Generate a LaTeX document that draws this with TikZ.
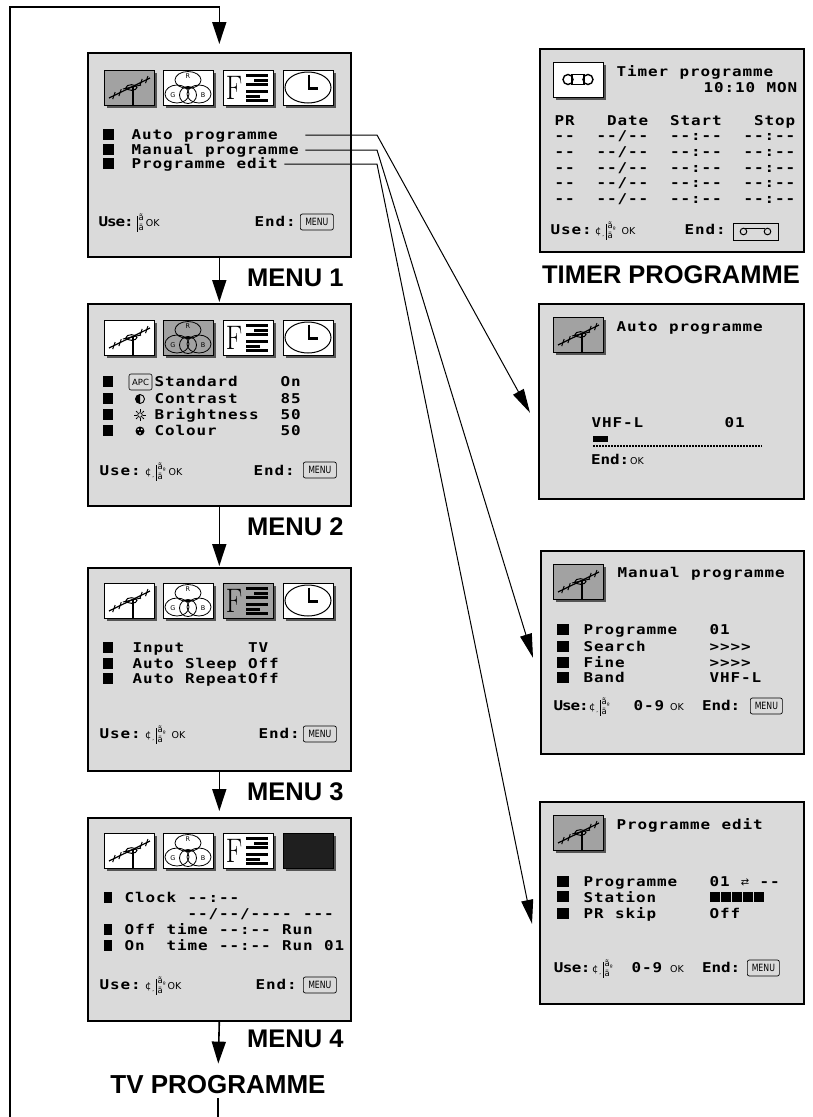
\documentclass[tikz,border=0pt]{standalone}
\usepackage{fontspec}
\usepackage{graphicx}
\usetikzlibrary{arrows.meta}
\newfontfamily\osdfam{DejaVu Sans Mono}
\newfontfamily\symf{DejaVu Sans}
\newfontfamily\lblf{Liberation Sans}
\newcommand\osdfont{\osdfam\bfseries\fontsize{13.5}{13.5}\selectfont}
\ExplSyntaxOn
\dim_new:N \l_osd_pitch_dim
\NewDocumentCommand\osd{O{10.5pt}m}{
  \group_begin:
  \dim_set:Nn \l_osd_pitch_dim {#1}
  \osdfont
  \str_map_inline:nn {#2}
   {
     \str_if_eq:nnTF {##1} {_}
       { \hbox_to_wd:nn { \l_osd_pitch_dim } { } }
       { \hbox_to_wd:nn { \l_osd_pitch_dim } { \hss \scalebox{1.18}[1]{##1} \hss } }
   }
  \group_end:
}
\ExplSyntaxOff
\newcommand\okf{\symf\fontsize{9.5}{9.5}\selectfont}
\newcommand\stk{\raisebox{-3.6pt}{\symf\fontsize{8.5}{7}\selectfont\shortstack[l]{ã\\ä}}}
\newcommand\ctlA{\rule[-5pt]{0.7pt}{16pt}\kern0.8pt\stk}
\newcommand\ctl{{\symf\fontsize{10}{10}\selectfont ¢\raisebox{-1pt}{\fontsize{6}{6}\selectfont ¸}}\kern1.5pt\ctlA\raisebox{3.5pt}{\symf\fontsize{6}{6}\selectfont º}}
\definecolor{screenbg}{HTML}{DADADA}
\definecolor{selgray}{HTML}{A2A2A2}
\definecolor{shadowc}{HTML}{555555}
\newcommand\icoframe{\fill[shadowc] (2.5,2.5) rectangle (52.5,37.5);
  \filldraw[fill=\icofill, line width=0.9pt] (0,0) rectangle (50,35);}
\tikzset{
 icofill/.store in=\icofill, icofill=white,
 screen/.style={draw, fill=screenbg, line width=1.6pt, anchor=north west, inner sep=0pt},
 txt/.style={anchor=base west, inner sep=0pt},
 keyb/.style={draw, rounded corners=2pt, line width=0.7pt, minimum width=33pt, minimum height=16pt, inner sep=0pt, font=\symf\fontsize{10}{10}\selectfont, anchor=west},
 apcb/.style={draw, rounded corners=2pt, line width=0.6pt, minimum width=23pt, minimum height=16pt, inner sep=0pt, font=\symf\fontsize{8.5}{8.5}\selectfont},
 lbl/.style={font=\lblf\bfseries\fontsize{25.5}{25.5}\selectfont, inner sep=0pt},
 flow/.style={line width=1.6pt, line join=miter, -{Triangle[length=22pt,width=14pt]}},
 conn/.style={line width=1pt, -{Triangle[length=24pt,width=12pt]}},
 icobare/.pic={\icoframe},
 icoant/.pic={\icoframe
   \draw[line width=1.2pt] (5,28) -- (46,8);
   \foreach \t in {0.12,0.27,0.78,0.92}
     \draw[line width=1pt] ({5+41*\t-1.2},{28-20*\t+3.5}) -- ({5+41*\t+1.2},{28-20*\t-3.5});
   \draw[line width=1pt] (27.5,17.5) ellipse (5.5 and 2.8);
   \draw[line width=1pt] (19,19) -- (37,15);
   \draw[line width=1.8pt] (29,17) -- (29,35);
 },
 icocol/.pic={\icoframe
   \begin{scope}[line width=0.8pt]
    \draw (25,10) ellipse (13 and 8.5);
    \draw (14,24) ellipse (12 and 9);
    \draw (36,24) ellipse (12 and 9);
    \draw (25,25) circle (8.5);
    \begin{scope}\clip (25,10) ellipse (13 and 8.5); \fill (25,25) circle (8.5);\end{scope}
   \end{scope}
   \node[font=\symf\fontsize{6.5}{6.5}\selectfont, inner sep=0pt] (-r) at (25,6) {R};
   \node[font=\symf\fontsize{6.5}{6.5}\selectfont, inner sep=0pt] (-g) at (10,25) {G};
   \node[font=\symf\fontsize{6.5}{6.5}\selectfont, inner sep=0pt] (-b) at (40,25) {B};
 },
 icof/.pic={\icoframe
   \node[inner sep=0pt, anchor=base] (-f) at (11,29) {\fontsize{34}{34}\selectfont\scalebox{0.8}[1]{F}};
   \fill (23,4) rectangle (45,7);
   \fill (31,8.5) rectangle (45,11.5);
   \fill (23,13) rectangle (45,16);
   \fill (23,20) rectangle (45,23);
   \fill (23,24.5) rectangle (37,27.5);
   \fill (23,29) rectangle (45,32);
 },
 icoclk/.pic={\icoframe
   \draw[line width=1pt] (25,17.5) ellipse (23 and 15.5);
   \draw[line width=2.6pt] (26,4.5) -- (26,18.5) -- (35,18.5);
 },
 icotape/.pic={\icoframe
   \draw[line width=1.4pt] (15,17.5) circle (5) (35,17.5) circle (5);
   \draw[line width=1.4pt] (19,12.5) rectangle (31,22.5);
 },
}
\begin{document}
\begin{tikzpicture}[x=1pt,y=-1pt]
\useasboundingbox (0,0) rectangle (812,1117);
\fill[white] (0,0) rectangle (812,1117);

% ---------------- MENU 1 ----------------
\node[screen, minimum width=263pt, minimum height=204pt] (m1) at (87,52) {};
\pic[icofill=selgray] (m1i1) at (104,70) {icoant};
\pic (m1i2) at (163,70) {icocol};
\pic (m1i3) at (223,70) {icof};
\pic (m1i4) at (283,70) {icoclk};
\foreach \y in {135,150,164} \fill (103,\y-6) rectangle (114,\y+5);
\node[txt] (m1a) at (131,139.7) {\osd{Auto programme}};
\node[txt] (m1b) at (131,154.7) {\osd{Manual programme}};
\node[txt] (m1c) at (131,168.7) {\osd{Programme edit}};
\node[txt] (m1u) at (99,226.7) {\osd[8.5pt]{Use:}};
\node[txt] (m1s) at (137,226.7) {\ctlA\kern2pt{\okf OK}};
\node[txt] (m1e) at (254,226.7) {\osd{End:}};
\node[keyb] (m1k) at (300,222) {\scalebox{0.78}[1]{MENU}};

% ---------------- MENU 2 ----------------
\node[screen, minimum width=263pt, minimum height=202pt] (m2) at (87,303) {};
\pic (m2i1) at (104,320) {icoant};
\pic[icofill=selgray] (m2i2) at (163,320) {icocol};
\pic (m2i3) at (223,320) {icof};
\pic (m2i4) at (283,320) {icoclk};
\foreach \y in {382,399,415,431} \fill (103,\y-6) rectangle (113,\y+5);
\node[apcb] (m2apc) at (140.5,382) {APC};
\draw[line width=0.9pt] (140,399) circle (4.5);
\begin{scope}\clip (134,392) rectangle (140,406); \fill (140,399) circle (4.5);\end{scope}
\draw[line width=0.8pt] (140,415) circle (2.3);
\foreach \a in {0,45,...,315} \draw[line width=0.8pt] (140,415) ++(\a:3.4) -- ++(\a:2.2);
\fill (140,431) circle (4.5);
\fill[white] (138.3,429.4) circle (1) (141.7,429.4) circle (1) (140,432.8) circle (1);
\node[txt] (m2a) at (154,386.7) {\osd{Standard____On}};
\node[txt] (m2b) at (154,403.7) {\osd{Contrast____85}};
\node[txt] (m2c) at (154,419.7) {\osd{Brightness__50}};
\node[txt] (m2d) at (154,435.7) {\osd{Colour______50}};
\node[txt] (m2u) at (99,475.7) {\osd{Use:}};
\node[txt] (m2s) at (145,475.7) {\ctl\kern3pt{\okf OK}};
\node[txt] (m2e) at (253,475.7) {\osd{End:}};
\node[keyb] (m2k) at (303,470) {\scalebox{0.78}[1]{MENU}};

% ---------------- MENU 3 ----------------
\node[screen, minimum width=263pt, minimum height=203pt] (m3) at (87,567) {};
\pic (m3i1) at (104,583) {icoant};
\pic (m3i2) at (163,583) {icocol};
\pic[icofill=selgray] (m3i3) at (223,583) {icof};
\pic (m3i4) at (283,583) {icoclk};
\foreach \y in {648,664,679} \fill (103,\y-6) rectangle (113,\y+5);
\node[txt] (m3a) at (132,652.7) {\osd{Input______TV}};
\node[txt] (m3b) at (132,668.7) {\osd{Auto Sleep Off}};
\node[txt] (m3c) at (132,683.7) {\osd{Auto RepeatOff}};
\node[txt] (m3u) at (99,738.7) {\osd{Use:}};
\node[txt] (m3s) at (145,738.7) {\ctl\kern6pt{\okf OK}};
\node[txt] (m3e) at (258,738.7) {\osd{End:}};
\node[keyb] (m3k) at (303,734) {\scalebox{0.78}[1]{MENU}};

% ---------------- MENU 4 ----------------
\node[screen, minimum width=263pt, minimum height=203pt] (m4) at (87,817) {};
\pic (m4i1) at (104,833) {icoant};
\pic (m4i2) at (163,833) {icocol};
\pic (m4i3) at (223,833) {icof};
\pic[icofill=black!88] (m4i4) at (283,833) {icobare};
\foreach \y in {898,930,946} \fill (104,\y-6) rectangle (112,\y+5);
\node[txt] (m4a) at (124,902.7) {\osd{Clock --:--}};
\node[txt] (m4b) at (187,918.7) {\osd{--/--/---- ---}};
\node[txt] (m4c) at (124,934.7) {\osd{Off time --:-- Run}};
\node[txt] (m4d) at (124,950.7) {\osd{On__time --:-- Run 01}};
\node[txt] (m4u) at (99,989.7) {\osd{Use:}};
\node[txt] (m4s) at (145,989.7) {\ctl\kern2pt{\okf OK}};
\node[txt] (m4e) at (255,989.7) {\osd{End:}};
\node[keyb] (m4k) at (303,985) {\scalebox{0.78}[1]{MENU}};

% ---------------- TIMER ----------------
\node[screen, minimum width=264pt, minimum height=203pt] (timer) at (539,48) {};
\pic (tmi) at (553,62) {icotape};
\node[txt] (tma) at (616,76.7) {\osd{Timer programme}};
\node[txt] (tmb) at (703,92.7) {\osd{10:10 MON}};
\node[txt] (tmh) at (554,125.7) {\osd{PR___Date__Start___Stop}};
\foreach \y [count=\i] in {140.7,156.4,172.1,187.8,203.5}
  \node[txt] (tmr\i) at (554,\y) {\osd{--__--/--__--:--__--:--}};
\node[txt] (tmu) at (550,234.7) {\osd{Use:}};
\node[txt] (tms) at (595,234.7) {\ctl\kern6pt{\okf OK}};
\node[txt] (tme) at (684,234.7) {\osd{End:}};
\node[draw, line width=0.8pt, minimum width=45pt, minimum height=17pt, inner sep=0pt] (tmk) at (755.5,231.5) {};
\draw[line width=1pt] ([xshift=-12pt]tmk.center) circle (3.3pt) ([xshift=12pt]tmk.center) circle (3.3pt);
\draw[line width=1pt] ([xshift=-12pt,yshift=3.3pt]tmk.center) -- ([xshift=9pt,yshift=3.3pt]tmk.center);

% ---------------- AUTO PROGRAMME ----------------
\node[screen, minimum width=265pt, minimum height=195pt] (autop) at (538,303) {};
\pic[icofill=selgray] (api) at (553,317) {icoant};
\node[txt] (apa) at (616,331.7) {\osd{Auto programme}};
\node[txt] (apb) at (591,427.7) {\osd{VHF-L}};
\node[txt] (apc) at (724,427.7) {\osd{01}};
\fill (593,436) rectangle (608,442);
\draw[line width=2pt, dash pattern=on 1.6pt off 1.4pt] (593,446) -- (762,446);
\node[txt] (ape) at (591,464.7) {\osd[9.5pt]{End:}};
\node[txt] (apk) at (630,464.7) {\okf OK};

% ---------------- MANUAL PROGRAMME ----------------
\node[screen, minimum width=263pt, minimum height=203pt] (manp) at (540,550) {};
\pic[icofill=selgray] (mpi) at (553,564) {icoant};
\node[txt] (mpa) at (617,577.7) {\osd{Manual programme}};
\foreach \y in {630,647,663,678} \fill (557,\y-6) rectangle (569,\y+5);
\node[txt] (mpb) at (583,634.7) {\osd{Programme___01}};
\node[txt] (mpc) at (583,651.7) {\osd{Search______>>>>}};
\node[txt] (mpd) at (583,667.7) {\osd{Fine________>>>>}};
\node[txt] (mpe) at (583,682.7) {\osd{Band________VHF-L}};
\node[txt] (mpu) at (554,710.7) {\osd[8.5pt]{Use:}};
\node[txt] (mps) at (589,710.7) {\ctl};
\node[txt] (mpn) at (633,710.7) {\osd{0-9}};
\node[txt] (mpo) at (670,710.7) {\okf OK};
\node[txt] (mpf) at (702,710.7) {\osd[9.5pt]{End:}};
\node[keyb, minimum width=32pt] (mpk) at (750,706) {\scalebox{0.78}[1]{MENU}};

% ---------------- PROGRAMME EDIT ----------------
\node[screen, minimum width=264pt, minimum height=202pt] (edit) at (539,801) {};
\pic[icofill=selgray] (edi) at (553,815) {icoant};
\node[txt] (eda) at (616,829.7) {\osd{Programme edit}};
\foreach \y in {882,897,914} \fill (557,\y-6) rectangle (569,\y+5);
\node[txt] (edb) at (583,886.7) {\osd{Programme___01}};
\node[inner sep=0pt] (edx) at (745,882) {\symf\fontsize{10}{10}\selectfont ⇄};
\node[txt] (edy) at (759,886.7) {\osd{--}};
\node[txt] (edc) at (583,902.7) {\osd{Station}};
\foreach \i in {0,...,4} \fill (710+11*\i,892) rectangle (719.5+11*\i,902);
\node[txt] (edd) at (583,918.7) {\osd{PR skip_____Off}};
\node[txt] (edu) at (554,972.7) {\osd[9pt]{Use:}};
\node[txt] (eds) at (592,972.7) {\ctl};
\node[txt] (edn) at (631,972.7) {\osd{0-9}};
\node[txt] (edo) at (670,972.7) {\okf OK};
\node[txt] (edf) at (702,972.7) {\osd[9.5pt]{End:}};
\node[keyb, minimum width=32pt] (edk) at (747,968) {\scalebox{0.78}[1]{MENU}};

% ---------------- LABELS ----------------
\node[lbl, anchor=west] (lb1) at (247,278) {MENU 1};
\node[lbl, anchor=west] (lb2) at (247,527) {MENU 2};
\node[lbl, anchor=west] (lb3) at (247,792) {MENU 3};
\node[lbl, anchor=west] (lb4) at (247,1039) {MENU 4};
\node[lbl] (tpl) at (671,275) {TIMER PROGRAMME};
\node[lbl, font=\lblf\bfseries\fontsize{26}{26}\selectfont] (tvp) at (218,1085) {TV PROGRAMME};

% ---------------- FLOW ----------------
\coordinate (lb) at (10,1135);
\coordinate (lt) at (10,7);
\draw[flow, shorten <=4pt, shorten >=8pt] (tvp.south) -- (tvp.south |- lb) -- (lb) -- (lt) -- (lt -| m1.north) -- (m1.north);
\draw[flow, shorten >=1pt] (m1.south) -- (m2.north);
\draw[flow, shorten >=1pt] (m2.south) -- (m3.north);
\draw[flow, shorten >=6pt] (m3.south) -- (m4.north);
\draw[flow, shorten >=12pt] (m4.south) -- (tvp.north);

% ---------------- CONNECTORS ----------------
\coordinate (c1b) at (377,135);
\coordinate (c2b) at (377,150);
\coordinate (c3b) at (377,164);
\draw[conn] ([xshift=27pt,yshift=4.7pt]m1a.base east) -- (c1b) -- ([xshift=-8pt,yshift=-11.5pt]autop.west);
\draw[conn] ([xshift=6pt,yshift=4.7pt]m1b.base east) -- (c2b) -- ([xshift=-7pt,yshift=-5.5pt]manp.west);
\draw[conn] ([xshift=6pt,yshift=4.7pt]m1c.base east) -- (c3b) -- ([xshift=-7pt,yshift=-21pt]edit.west);
\end{tikzpicture}
\end{document}
